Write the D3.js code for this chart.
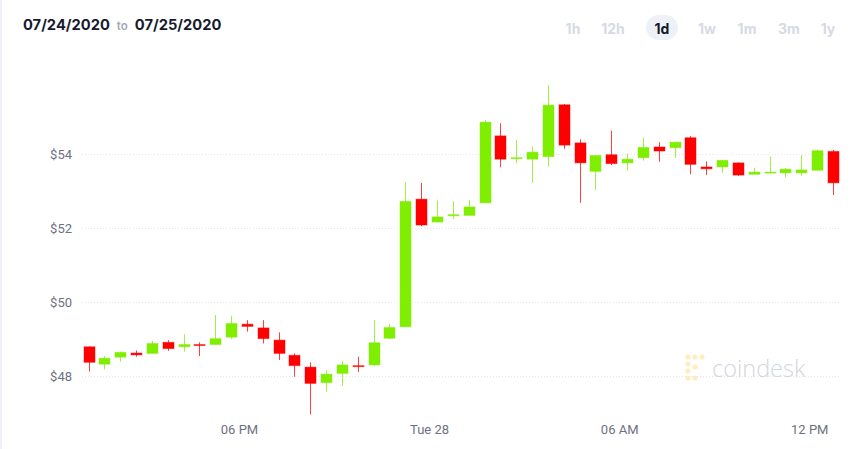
<!DOCTYPE html>
<html>
<head>
<meta charset="utf-8">
<script src="https://cdn.jsdelivr.net/npm/d3@7"></script>
<style>
  html, body { margin: 0; padding: 0; background: #fff; }
  svg { display: block; }
</style>
</head>
<body>
<svg id="chart" width="865" height="449"></svg>
<script>
// ---- data (30-minute candles, starting Mon Jul 27 2020 13:00) ----
const startTime = "2020-07-27T13:00:00Z";
const open  = [48.79,48.32,48.51,48.62,48.61,48.91,48.79,48.85,48.85,49.05,49.40,49.30,48.97,48.56,48.24,47.82,48.07,48.28,48.30,49.02,49.33,52.78,52.16,52.33,52.34,52.68,54.49,53.88,53.86,53.93,55.33,54.30,53.53,53.98,53.76,53.90,54.19,54.17,54.44,53.65,53.65,53.76,53.45,53.50,53.49,53.49,53.56,54.07];
const high  = [48.80,48.54,48.66,48.69,48.95,48.97,49.13,48.91,49.65,49.63,49.51,49.51,49.18,48.61,48.37,48.16,48.41,48.52,49.51,49.41,53.24,53.22,52.74,52.73,52.76,54.92,54.83,54.38,54.20,55.86,55.35,54.40,53.96,54.63,54.01,54.44,54.32,54.32,54.49,53.80,53.83,53.77,53.62,53.93,53.62,53.97,54.12,54.11];
const low   = [48.12,48.18,48.39,48.52,48.61,48.68,48.66,48.54,48.85,49.00,49.20,48.88,48.43,47.98,46.96,47.58,47.73,48.11,48.27,49.00,49.33,52.05,52.16,52.24,52.34,52.68,53.64,53.75,53.22,53.66,54.14,52.68,53.03,53.70,53.55,53.82,53.79,53.90,53.45,53.43,53.49,53.41,53.45,53.49,53.37,53.41,53.56,52.89];
const close = [48.37,48.48,48.64,48.57,48.88,48.74,48.85,48.84,49.01,49.42,49.34,49.01,48.61,48.28,47.80,48.05,48.30,48.27,48.90,49.31,52.72,52.08,52.30,52.36,52.57,54.86,53.86,53.90,54.05,55.32,54.24,53.76,53.96,53.74,53.86,54.18,54.08,54.32,53.72,53.60,53.83,53.43,53.51,53.51,53.59,53.57,54.09,53.22];

const yTicks = [48, 50, 52, 54];
const xTickTimes = ["2020-07-27T18:00:00Z","2020-07-28T00:00:00Z","2020-07-28T06:00:00Z","2020-07-28T12:00:00Z"];
const xTickLabels = ["06 PM","Tue 28","06 AM","12 PM"];
const rangeButtons = ["1h","12h","1d","1w","1m","3m","1y"];
const activeButton = "1d";
const dateFrom = "07/24/2020", dateTo = "07/25/2020";

// ---- build ----
const svg = d3.select("#chart");
const W = 865, H = 449;
const UP = "#80ee00", DOWN = "#ff0000";
const t0 = new Date(startTime);
const HALF = 30 * 60 * 1000;
const candles = open.map((o, i) => ({
  t: new Date(t0.getTime() + i * HALF),
  o, h: high[i], l: low[i], c: close[i]
}));

// x: time scale, 6 PM -> 239
const pxPerHour = 31.68;
const anchor = new Date("2020-07-27T18:00:00Z");
const dStart = new Date(anchor.getTime() - 239 / pxPerHour * 3600000);
const dEnd = new Date(anchor.getTime() + (W - 239) / pxPerHour * 3600000);
const x = d3.scaleUtc().domain([dStart, dEnd]).range([0, W]);
const y = d3.scaleLinear().domain([48, 54]).range([376, 154]);

// left strip
svg.append("rect").attr("x", 0).attr("y", 0).attr("width", 2).attr("height", H).attr("fill", "#eef1f7");

// header
const hdr = svg.append("text").attr("x", 23).attr("y", 30)
  .attr("font-family", "Inter, 'Open Sans', sans-serif").attr("font-size", 14.7).attr("font-weight", 700).attr("fill", "#171a2f");
hdr.append("tspan").text(dateFrom);
hdr.append("tspan").attr("font-size", 11.5).attr("font-weight", 600).attr("fill", "#a6a9b6").attr("dx", 7).text("to");
hdr.append("tspan").attr("dx", 7).text(dateTo);

// range buttons
const btnX = [573, 613, 662, 707, 747, 789, 828];
rangeButtons.forEach((b, i) => {
  if (b === activeButton) {
    svg.append("rect").attr("x", btnX[i] - 16).attr("y", 15).attr("width", 32).attr("height", 25)
      .attr("rx", 12.5).attr("fill", "#eef2f8");
  }
  svg.append("text").attr("x", btnX[i]).attr("y", 34).attr("text-anchor", "middle")
    .attr("font-family", "Inter, 'Open Sans', sans-serif").attr("font-size", 14).attr("font-weight", 700)
    .attr("fill", b === activeButton ? "#171a2f" : "#d7dae4").text(b);
});

// gridlines + y labels
const yAxis = d3.axisLeft(y).tickValues(yTicks).tickSize(0).tickFormat(d => "$" + d);
const ga = svg.append("g").attr("transform", "translate(72,0)").call(yAxis);
ga.select(".domain").remove();
ga.selectAll("text").attr("x", 0).attr("dy", "0.35em")
  .attr("font-family", "Roboto, 'Liberation Sans', sans-serif").attr("font-size", 13).attr("fill", "#6d7183");
svg.append("g").selectAll("line").data(yTicks).join("line")
  .attr("x1", 82).attr("x2", 840)
  .attr("y1", d => Math.round(y(d)) + 0.5).attr("y2", d => Math.round(y(d)) + 0.5)
  .attr("stroke", "#e4e6ec").attr("stroke-width", 1).attr("stroke-dasharray", "1,2");

// watermark
const wm = svg.append("g");
const dots = [[688,357],[695,357],[702,357],[688,364],[688,371],[688,378],[695,378],[695,367]];
wm.selectAll("circle").data(dots).join("circle")
  .attr("cx", d => d[0]).attr("cy", d => d[1]).attr("r", 2.6).attr("fill", "#fde9b0").attr("opacity", 0.8);
wm.append("text").attr("x", 712).attr("y", 377)
  .attr("font-family", "'Open Sans', Lato, sans-serif").attr("font-weight", 300).attr("font-size", 23.5)
  .attr("fill", "#d3d6de").text("coindesk");

// x axis labels
const xAxis = d3.axisBottom(x).tickValues(xTickTimes.map(d => new Date(d))).tickSize(0)
  .tickFormat((d, i) => xTickLabels[i]);
const gx = svg.append("g").attr("transform", "translate(0,424)").call(xAxis);
gx.select(".domain").remove();
gx.selectAll("text").attr("y", 0).attr("dy", "0.8em")
  .attr("font-family", "Roboto, 'Liberation Sans', sans-serif").attr("font-size", 13).attr("fill", "#6d7183");

// candles
const bodyW = 11;
const cg = svg.append("g");
const cx = d => Math.round(x(new Date(d.t.getTime() + HALF / 2)));
cg.selectAll("line.wick").data(candles).join("line").attr("class", "wick")
  .attr("x1", d => cx(d) + 0.5).attr("x2", d => cx(d) + 0.5)
  .attr("y1", d => y(d.h)).attr("y2", d => y(d.l))
  .attr("stroke", d => d.c >= d.o ? UP : DOWN).attr("stroke-opacity", 0.75).attr("stroke-width", 1);
cg.selectAll("rect.body").data(candles).join("rect").attr("class", "body")
  .attr("x", d => cx(d) - bodyW / 2 + 0.5)
  .attr("y", d => y(Math.max(d.o, d.c)))
  .attr("width", bodyW)
  .attr("height", d => Math.max(1, Math.abs(y(d.o) - y(d.c))))
  .attr("fill", d => d.c >= d.o ? UP : DOWN)
  .attr("stroke", d => d.c >= d.o ? UP : DOWN).attr("stroke-opacity", 0.45).attr("stroke-width", 1);
</script>
</body>
</html>
